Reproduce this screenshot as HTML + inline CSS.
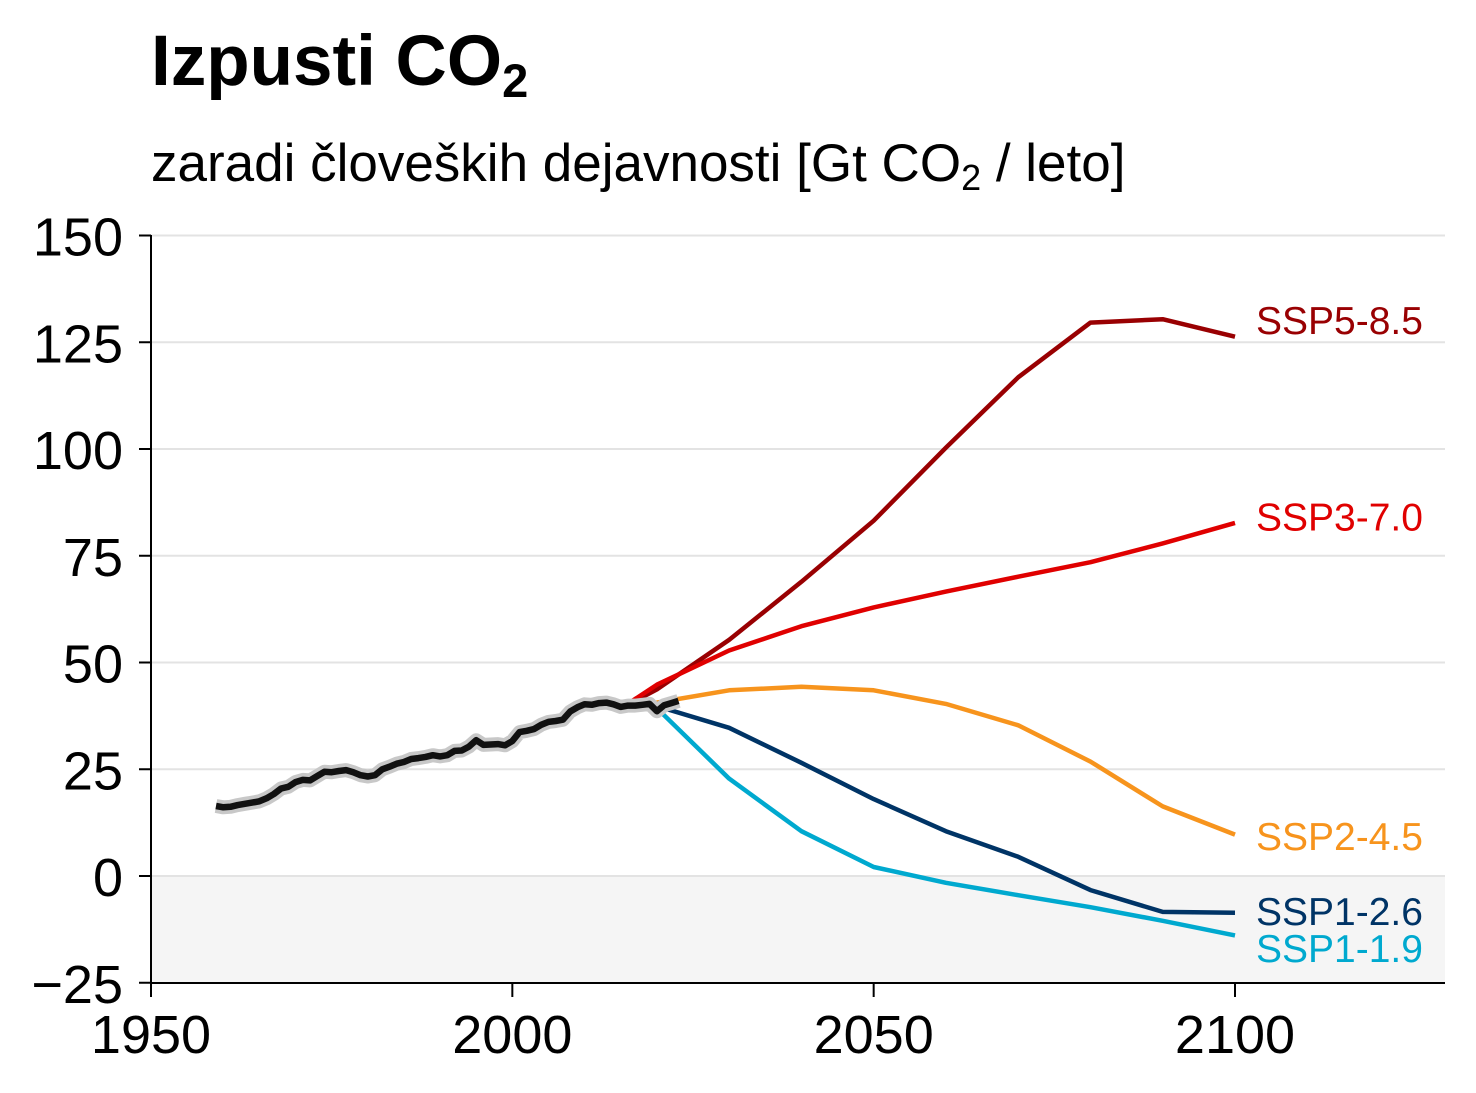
<!DOCTYPE html>
<html><head><meta charset="utf-8"><style>
html,body{margin:0;padding:0;background:#fff;}
svg{display:block;font-family:"Liberation Sans",Arial,sans-serif;}
</style></head><body>
<svg id="chart" width="1476" height="1093" viewBox="0 0 1476 1093" xmlns="http://www.w3.org/2000/svg">
<text x="151" y="85" font-size="71" font-weight="bold" fill="#000">Izpusti CO<tspan font-size="47" dy="12">2</tspan></text>
<text x="151" y="181" font-size="53" fill="#000">zaradi človeških dejavnosti [Gt CO<tspan font-size="36" dy="9">2</tspan><tspan dy="-9"> / leto]</tspan></text>
<g id="plot"></g>
</svg>
<script>
const yTicks=[-25,0,25,50,75,100,125,150];
const xTicks=[1950,2000,2050,2100];
const histYears=[1959,1960,1961,1962,1963,1964,1965,1966,1967,1968,1969,1970,1971,1972,1973,1974,1975,1976,1977,1978,1979,1980,1981,1982,1983,1984,1985,1986,1987,1988,1989,1990,1991,1992,1993,1994,1995,1996,1997,1998,1999,2000,2001,2002,2003,2004,2005,2006,2007,2008,2009,2010,2011,2012,2013,2014,2015,2016,2017,2018,2019,2020,2021,2022,2023];
const histValues=[16.4,16.1,16.2,16.6,16.9,17.2,17.5,18.2,19.2,20.5,20.9,22.0,22.5,22.4,23.4,24.4,24.3,24.6,24.8,24.3,23.6,23.3,23.6,25.0,25.6,26.3,26.7,27.4,27.6,27.9,28.3,28.0,28.3,29.3,29.4,30.3,31.8,30.7,30.8,30.9,30.6,31.6,33.7,34.0,34.4,35.4,36.1,36.3,36.6,38.5,39.5,40.2,40.1,40.5,40.6,40.2,39.6,39.9,39.9,40.1,40.3,38.6,40.0,40.5,41.0];
const scenYears=[2015,2020,2030,2040,2050,2060,2070,2080,2090,2100];
const ssp119=[39.2,39.3,22.8,10.5,2.1,-1.6,-4.5,-7.3,-10.5,-13.9];
const ssp126=[39.2,39.8,34.7,26.5,18.0,10.5,4.5,-3.3,-8.4,-8.6];
const ssp245=[39.2,40.6,43.5,44.3,43.5,40.3,35.3,26.8,16.3,9.7];
const ssp370=[39.2,44.8,52.8,58.5,62.9,66.6,70.1,73.5,77.9,82.7];
const ssp585=[39.2,43.7,55.3,68.9,83.2,100.3,116.8,129.6,130.4,126.3];
const scenNames=["SSP1-1.9","SSP1-2.6","SSP2-4.5","SSP3-7.0","SSP5-8.5"];
const labelValues=[-17.1,-8.4,9.1,84,130];

const NS="http://www.w3.org/2000/svg";
const X0=151,X1=1445,Y0=983;
function xs(yr){return 151+(yr-1950)*(1235-151)/150;}
function ys(v){return 876-v*(876-235.5)/150;}
const g=document.getElementById('plot');
function mk(tag,attrs,parent){const e=document.createElementNS(NS,tag);for(const k in attrs)e.setAttribute(k,attrs[k]);(parent||g).appendChild(e);return e;}

let sh=mk('rect',{x:X0,y:ys(0),width:X1-X0,height:Y0-ys(0),fill:'#f5f5f5'});


yTicks.forEach(t=>{
  if(t>-25){let gl=mk('line',{x1:X0,x2:X1,y1:ys(t),y2:ys(t),stroke:'#e3e3e3','stroke-width':2});
  
  }
  let tk=mk('line',{x1:X0-12,x2:X0,y1:ys(t),y2:ys(t),stroke:'#000','stroke-width':2});
  
  
  let tl=mk('text',{x:X0-28,y:ys(t)+20,'font-size':54,'text-anchor':'end',fill:'#000'});
  tl.textContent=t<0?'\u2212'+Math.abs(t):String(t);
  
  
});
xTicks.forEach(t=>{
  let tk=mk('line',{x1:xs(t),x2:xs(t),y1:Y0,y2:Y0+14,stroke:'#000','stroke-width':2});
  
  
  let tl=mk('text',{x:xs(t),y:1053,'font-size':54,'text-anchor':'middle',fill:'#000'});
  tl.textContent=String(t);
  
  
});
let ay=mk('line',{x1:X0,x2:X0,y1:235,y2:Y0+1,stroke:'#000','stroke-width':2});


let ax=mk('line',{x1:X0,x2:X1,y1:Y0,y2:Y0,stroke:'#000','stroke-width':2});



const series=[ssp119,ssp126,ssp245,ssp370,ssp585];
const colors=['#00a9cf','#003466','#f7941d','#e00000','#990002'];
[4,3,2,1,0].forEach(i=>{
  const d=scenYears.map((yr,j)=>(j?'L':'M')+xs(yr).toFixed(1)+','+ys(series[i][j]).toFixed(1)).join(' ');
  let p=mk('path',{d:d,fill:'none',stroke:colors[i],'stroke-width':4.5,'stroke-linejoin':'round'});
  
  
  let lb=mk('text',{x:1256,y:ys(labelValues[i])+13,'font-size':39,fill:colors[i]});
  lb.textContent=scenNames[i];
  
  
});
const hd=histYears.map((yr,j)=>(j?'L':'M')+xs(yr).toFixed(1)+','+ys(histValues[j]).toFixed(1)).join(' ');
let band=mk('path',{d:hd,fill:'none',stroke:'#c8c8c8','stroke-width':14,'stroke-linejoin':'round'});


let hl=mk('path',{d:hd,fill:'none',stroke:'#111','stroke-width':6.5,'stroke-linejoin':'round'});


</script>
</body></html>
